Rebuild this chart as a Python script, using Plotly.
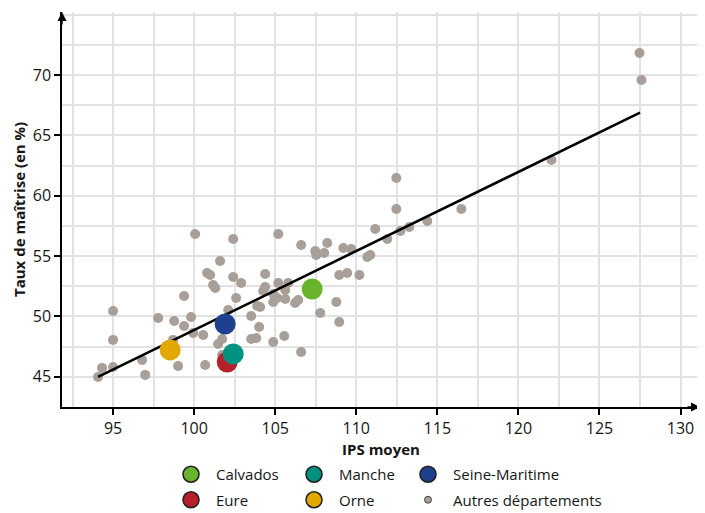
import plotly.graph_objects as go

# ---- data ----
autres_ips = [94.07, 94.32, 95.0, 95.0, 95.0, 96.79, 96.98, 97.78, 98.70, 98.77,
              99.01, 99.38, 99.38, 99.81, 99.94, 100.06, 100.56, 100.68, 100.80, 100.99,
              101.17, 101.30, 101.60, 101.48, 101.73, 102.10, 102.41, 102.41, 102.59, 102.90,
              103.52, 103.52, 103.83, 104.01, 103.89, 104.07, 104.26, 104.38, 104.38, 104.88,
              104.88, 105.12, 104.88, 105.19, 105.19, 105.62, 105.62, 105.56, 105.80, 106.23,
              106.42, 106.60, 106.60, 107.47, 107.53, 108.02, 108.21, 107.78, 108.77, 108.95,
              108.95, 109.20, 109.44, 109.69, 110.19, 110.68, 110.86, 111.17, 111.91, 112.47,
              112.47, 112.72, 113.27, 114.38, 116.48, 122.04, 127.47, 127.59, 101.73]
autres_taux = [44.98, 45.73, 45.81, 48.05, 50.45, 46.39, 45.15, 49.87, 48.05, 49.62,
               45.89, 51.69, 49.20, 49.95, 48.62, 56.83, 48.46, 45.97, 53.60, 53.43,
               52.60, 52.35, 54.59, 47.71, 48.13, 50.53, 56.41, 53.26, 51.52, 52.77,
               50.03, 48.13, 48.21, 49.12, 50.86, 50.78, 52.10, 53.51, 52.43, 51.86,
               51.19, 51.52, 47.88, 56.83, 52.77, 52.19, 51.44, 48.38, 52.77, 51.11,
               51.36, 55.92, 47.05, 55.42, 55.09, 55.25, 56.08, 50.28, 51.19, 49.54,
               53.43, 55.67, 53.60, 55.58, 53.43, 54.92, 55.09, 57.24, 56.41, 61.47,
               58.90, 57.08, 57.41, 57.90, 58.90, 62.96, 71.82, 69.59, 46.80]

dept_names = ["Calvados", "Eure", "Orne", "Seine-Maritime", "Manche"]
dept_ips = [107.28, 102.04, 98.52, 101.91, 102.41]
dept_taux = [52.27, 46.22, 47.22, 49.37, 46.89]
dept_colors = ["#6ab42d", "#b5202a", "#e0a800", "#1f3f8f", "#009280"]

trend_ips = [94.07, 127.5]
trend_taux = [44.98, 66.88]

legend_cols = {"Calvados": "legend", "Eure": "legend",
               "Manche": "legend2", "Orne": "legend2",
               "Seine-Maritime": "legend3", "Autres départements": "legend3"}
legend_order = ["Calvados", "Eure", "Manche", "Orne", "Seine-Maritime"]

x_ticks = [95, 100, 105, 110, 115, 120, 125, 130]
y_ticks = [45, 50, 55, 60, 65, 70]

GREY = "#a89f99"
FONT = "Open Sans"
TXT = "#161616"

fig = go.Figure()

# other departments
fig.add_trace(go.Scatter(x=autres_ips, y=autres_taux, mode="markers",
                         marker=dict(size=10, color=GREY),
                         showlegend=False, hoverinfo="skip"))
# trend line
fig.add_trace(go.Scatter(x=trend_ips, y=trend_taux, mode="lines",
                         line=dict(color="black", width=2.6),
                         showlegend=False, hoverinfo="skip"))
# highlighted departments
for n, xi, yi, c in zip(dept_names, dept_ips, dept_taux, dept_colors):
    fig.add_trace(go.Scatter(x=[xi], y=[yi], mode="markers",
                             marker=dict(size=21, color=c),
                             showlegend=False, name=n))

# legend-only entries
for n in legend_order:
    c = dept_colors[dept_names.index(n)]
    fig.add_trace(go.Scatter(x=[None], y=[None], mode="markers", name=n,
                             legend=legend_cols[n], legendgroup=n,
                             marker=dict(size=16, color=c, line=dict(color="#222", width=1.6))))
fig.add_trace(go.Scatter(x=[None], y=[None], mode="markers", name="Autres départements",
                         legend="legend3", legendgroup="autres",
                         marker=dict(size=7, color=GREY, line=dict(color="#222", width=0.8))))

# the page has an 8 px body margin: figure is 697x505, plot area 54..692 x 4..399 (figure px)
W, H = 697, 505
ML, MR, MT, MB = 54, 5, 4, 106
PW, PH = W - ML - MR, H - MT - MB

def px_x(p):  # screen px -> paper
    return (p - 8 - ML) / PW

def px_y(p):
    return (H - MB - (p - 8)) / PH

leg_common = dict(orientation="v", xanchor="left", yanchor="top", y=px_y(458),
                  bgcolor="rgba(0,0,0,0)", font=dict(family=FONT, size=15, color=TXT),
                  itemsizing="trace", tracegroupgap=3, borderwidth=0, itemwidth=40)

grid_col = "#e2e2e2"
fig.update_layout(
    width=W, height=H,
    margin=dict(l=ML, r=MR, t=MT, b=MB, autoexpand=False),
    plot_bgcolor="white", paper_bgcolor="white",
    font=dict(family=FONT, size=15, color=TXT),
    xaxis=dict(range=[91.85, 131.2], tickvals=x_ticks, ticktext=[str(v) for v in x_ticks],
               showgrid=True, gridcolor=grid_col, gridwidth=1.5,
               minor=dict(dtick=2.5, showgrid=True, gridcolor=grid_col, gridwidth=1.5),
               showline=True, linecolor="black", linewidth=1.5,
               ticks="outside", ticklen=6, tickcolor="black", tickwidth=1.5,
               zeroline=False, tickfont=dict(size=16, color=TXT), automargin=False,
               title=dict(text="<b>IPS moyen</b>", font=dict(size=15, color=TXT), standoff=6)),
    yaxis=dict(range=[42.49, 75.22], tickvals=y_ticks, ticktext=[str(v) for v in y_ticks],
               showgrid=True, gridcolor=grid_col, gridwidth=1.5,
               minor=dict(dtick=2.5, showgrid=True, gridcolor=grid_col, gridwidth=1.5),
               showline=True, linecolor="black", linewidth=1.5,
               ticks="outside", ticklen=6, tickcolor="black", tickwidth=1.5,
               zeroline=False, tickfont=dict(size=16, color=TXT), automargin=False),
    legend=dict(x=px_x(166), **leg_common),
    legend2=dict(x=px_x(289), **leg_common),
    legend3=dict(x=px_x(403), **leg_common),
)

# y-axis title
fig.add_annotation(x=px_x(8), y=px_y(210), xref="paper", yref="paper", showarrow=False,
                   text="<b>Taux de maîtrise (en %)</b>", textangle=-90, borderpad=0,
                   xanchor="left", yanchor="middle", font=dict(size=15, color=TXT))

# arrow heads on the axes
fig.add_annotation(x=0, y=1, xref="paper", yref="paper", ax=0, ay=14,
                   showarrow=True, arrowhead=2, arrowsize=1.2, arrowwidth=1.5, arrowcolor="black", text="")
fig.add_annotation(x=1, y=0, xref="paper", yref="paper", ax=-14, ay=0,
                   showarrow=True, arrowhead=2, arrowsize=1.2, arrowwidth=1.5, arrowcolor="black", text="")

fig.write_html("out.html")
